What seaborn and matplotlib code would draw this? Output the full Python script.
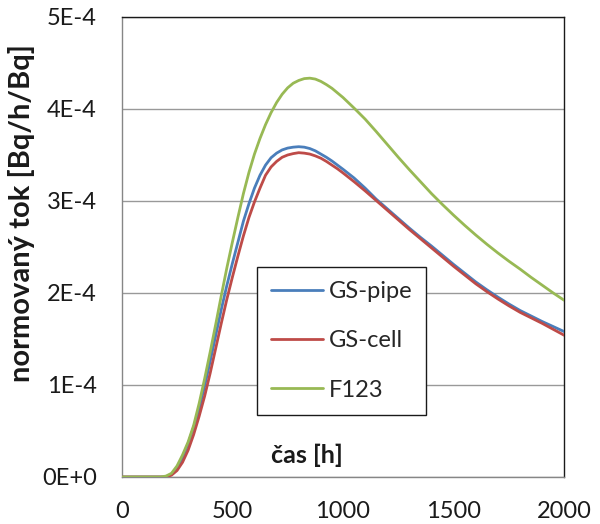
import numpy as np
import pandas as pd
import matplotlib
matplotlib.use("Agg")
import matplotlib.pyplot as plt
import seaborn as sns

# ---- data, values in units of 1E-4 ----
time_h = [0, 100, 150, 175, 200, 225, 250, 275, 300, 325, 350, 375, 400, 425, 450, 475,
          500, 525, 550, 575, 600, 625, 650, 675, 700, 725, 750, 775, 800, 825, 850,
          875, 900, 925, 950, 975, 1000, 1050, 1100, 1150, 1200, 1250, 1300, 1350,
          1400, 1450, 1500, 1550, 1600, 1650, 1700, 1750, 1800, 1850, 1900, 1950, 2000]
gs_pipe = [0, 0, 0, 0, 0.0, 0.03, 0.10, 0.21, 0.36, 0.54, 0.74, 0.99, 1.26, 1.54, 1.82, 2.08,
           2.32, 2.55, 2.78, 2.97, 3.14, 3.28, 3.39, 3.47, 3.52, 3.555, 3.575, 3.585, 3.59,
           3.585, 3.57, 3.545, 3.51, 3.475, 3.435, 3.39, 3.345, 3.25, 3.14, 3.02, 2.915,
           2.81, 2.705, 2.605, 2.51, 2.41, 2.31, 2.215, 2.12, 2.035, 1.955, 1.88, 1.81,
           1.75, 1.69, 1.635, 1.58]
gs_cell = [0, 0, 0, 0, 0.0, 0.02, 0.07, 0.16, 0.29, 0.46, 0.66, 0.88, 1.13, 1.40, 1.67, 1.93,
           2.17, 2.40, 2.62, 2.82, 2.99, 3.14, 3.28, 3.37, 3.43, 3.475, 3.50, 3.515, 3.525,
           3.52, 3.51, 3.49, 3.465, 3.43, 3.39, 3.35, 3.305, 3.21, 3.11, 3.005, 2.90,
           2.795, 2.69, 2.59, 2.49, 2.39, 2.29, 2.195, 2.10, 2.015, 1.935, 1.86, 1.79,
           1.73, 1.67, 1.605, 1.54]
f123 = [0, 0, 0, 0.0, 0.01, 0.04, 0.12, 0.24, 0.38, 0.56, 0.80, 1.07, 1.36, 1.66, 1.97, 2.27,
        2.55, 2.82, 3.08, 3.31, 3.51, 3.68, 3.83, 3.96, 4.07, 4.16, 4.23, 4.28, 4.31,
        4.33, 4.335, 4.325, 4.30, 4.265, 4.225, 4.175, 4.125, 4.01, 3.89, 3.755, 3.615,
        3.475, 3.34, 3.21, 3.08, 2.96, 2.845, 2.735, 2.63, 2.53, 2.435, 2.345, 2.26,
        2.17, 2.085, 2.00, 1.92]
series_names = ["GS-pipe", "GS-cell", "F123"]
series_vals = [gs_pipe, gs_cell, f123]
scale = 1e-4
x_ticks = [0, 500, 1000, 1500, 2000]
y_ticks = [0, 1e-4, 2e-4, 3e-4, 4e-4, 5e-4]
y_tick_labels = ["0E+0", "1E-4", "2E-4", "3E-4", "4E-4", "5E-4"]
colors = ["#4A7EBB", "#BE4B48", "#98B954"]

rows = []
for name, vals in zip(series_names, series_vals):
    for t, v in zip(time_h, vals):
        rows.append({"t": t, "v": v * scale, "series": name})
df = pd.DataFrame(rows)

sns.set_theme(style="white")
plt.rcParams["font.family"] = ["Lato", "DejaVu Sans"]

fig = plt.figure(figsize=(6.0, 5.24), dpi=100)
ax = fig.add_axes([0.2028, 0.0897, 0.7377, 0.8779])

sns.lineplot(data=df, x="t", y="v", hue="series", hue_order=series_names,
             palette=colors, linewidth=2.0, ax=ax, legend=False, zorder=3)
for ln in ax.get_lines():
    ln.set_solid_joinstyle("round")

ax.set_xlim(0, 2000)
ax.set_ylim(0, 5e-4)
ax.set_xticks(x_ticks)
ax.set_xticklabels([str(t) for t in x_ticks])
ax.set_yticks(y_ticks)
ax.set_yticklabels(y_tick_labels)
ax.yaxis.grid(True, color="#999999", linewidth=1.0, zorder=0)
ax.xaxis.grid(False)
ax.set_xlabel("")
ax.set_ylabel("")

for s in ["left", "bottom"]:
    ax.spines[s].set_color("#868686")
    ax.spines[s].set_linewidth(1.0)
for s in ["top", "right"]:
    ax.spines[s].set_color("#1a1a1a")
    ax.spines[s].set_linewidth(1.0)

ax.tick_params(axis="both", which="major", direction="out", length=5, width=1,
               color="#868686", labelsize=17, labelcolor="#1a1a1a")
ax.tick_params(axis="y", pad=13)
ax.tick_params(axis="x", pad=12)

handles = [plt.Line2D([], [], color=c, linewidth=2.0) for c in colors]
leg = ax.legend(handles, series_names, loc="upper left", bbox_to_anchor=(0.305, 0.457),
                frameon=True, fancybox=False, framealpha=1, edgecolor="#1a1a1a",
                fontsize=17, handlelength=2.2, handletextpad=0.25, labelspacing=1.2,
                borderpad=0.6, borderaxespad=0)
leg.get_frame().set_linewidth(1.0)

ax.text(0.418, 0.0304, "čas [h]", transform=ax.transAxes, ha="center", va="baseline",
        fontsize=18, fontweight="bold", color="#1a1a1a")
fig.text(0.036, 0.5935, "normovaný tok [Bq/h/Bq]", rotation=90, ha="center", va="center",
         fontsize=21, fontweight="bold", color="#1a1a1a")

fig.savefig("out.png", dpi=100)
